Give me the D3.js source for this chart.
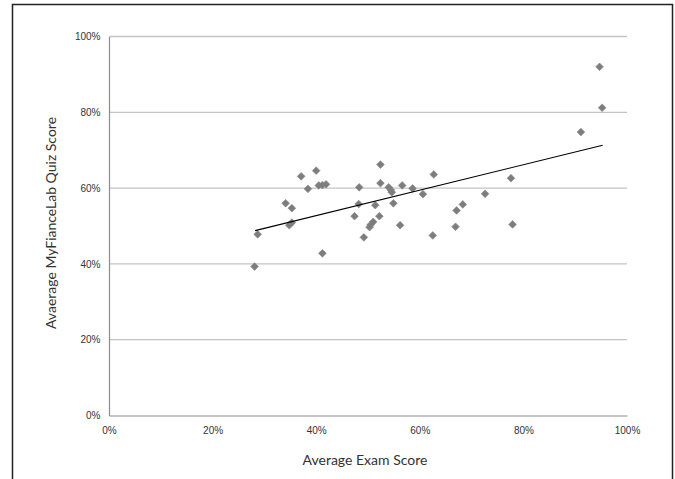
<!DOCTYPE html>
<html>
<head>
<meta charset="utf-8">
<script src="https://cdn.jsdelivr.net/npm/d3@7"></script>
<style>
  html, body { margin: 0; padding: 0; background: #fff; }
  svg { display: block; }
</style>
</head>
<body>
<div id="chart"></div>
<script>
// Data (percent values)
const examScore = [28.7, 28.1, 34.1, 35.3, 34.8, 35.3, 37.1, 38.4, 40.0, 40.5, 41.2, 41.9, 41.2,
  48.3, 48.2, 47.4, 49.2, 50.3, 50.5, 51.0, 52.4, 52.4, 51.4, 52.2, 54.0, 54.4, 54.6, 54.9,
  56.6, 56.2, 58.6, 60.6, 62.7, 62.5, 67.1, 68.3, 66.9, 72.6, 77.6, 77.9, 94.7, 95.2, 91.1];
const quizScore = [47.8, 39.3, 56.0, 54.7, 50.2, 50.9, 63.1, 59.8, 64.6, 60.7, 60.8, 61.0, 42.8,
  60.2, 55.8, 52.6, 47.0, 49.7, 50.3, 51.1, 66.2, 61.3, 55.5, 52.6, 60.2, 59.5, 58.9, 56.0,
  60.7, 50.2, 59.9, 58.4, 63.6, 47.5, 54.1, 55.7, 49.8, 58.5, 62.6, 50.4, 92.0, 81.2, 74.8];
const trendX = [28.2, 95.3];
const trendY = [48.8, 71.3];
const xTicks = [0, 20, 40, 60, 80, 100];
const yTicks = [0, 20, 40, 60, 80, 100];
const xTitle = "Average Exam Score";
const yTitle = "Avaerage MyFianceLab Quiz Score";

const W = 675, H = 479;
const svg = d3.select("#chart").append("svg").attr("width", W).attr("height", H);

// outer frame
svg.append("rect").attr("x", 12.5).attr("y", 4.5).attr("width", 660).attr("height", 520)
  .attr("fill", "none").attr("stroke", "#222").attr("stroke-width", 1.5);

const x = d3.scaleLinear().domain([0, 100]).range([109, 627]);
const y = d3.scaleLinear().domain([0, 100]).range([415.5, 36.5]);

// gridlines
svg.append("g").selectAll("line").data(yTicks.filter(d => d > 0)).join("line")
  .attr("x1", x(0)).attr("x2", x(100))
  .attr("y1", d => y(d)).attr("y2", d => y(d))
  .attr("stroke", "#c4c4c4").attr("stroke-width", 1.3);

// axes
const xAxis = d3.axisBottom(x).tickValues(xTicks).tickFormat(d => d + "%").tickSize(0).tickPadding(11);
const yAxis = d3.axisLeft(y).tickValues(yTicks).tickFormat(d => d + "%").tickSize(0).tickPadding(8.5);

const gx = svg.append("g").attr("transform", `translate(0,${y(0)})`).call(xAxis);
const gy = svg.append("g").attr("transform", `translate(${x(0)},0)`).call(yAxis);
[gx, gy].forEach(g => {
  g.select(".domain").attr("stroke", "#8c8c8c").attr("stroke-width", 1.2);
  g.selectAll("text").attr("font-family", "'Liberation Sans', Arial, sans-serif")
    .attr("font-size", 10).attr("fill", "#333");
});

// points
const pts = examScore.map((v, i) => ({ x: v, y: quizScore[i] }));
svg.append("g").selectAll("path").data(pts).join("path")
  .attr("d", d3.symbol().type(d3.symbolSquare).size(30))
  .attr("transform", d => `translate(${x(d.x)},${y(d.y)}) rotate(45)`)
  .attr("fill", "#7d7d7d").attr("stroke", "#8a8a8a").attr("stroke-width", 0.6)
  .attr("stroke-linejoin", "round");

// trend line
svg.append("line")
  .attr("x1", x(trendX[0])).attr("y1", y(trendY[0]))
  .attr("x2", x(trendX[1])).attr("y2", y(trendY[1]))
  .attr("stroke", "#000").attr("stroke-width", 1.2);

// axis titles
svg.append("text").attr("x", 365).attr("y", 465).attr("text-anchor", "middle")
  .attr("font-family", "Lato, 'Open Sans', sans-serif").attr("font-size", 14).attr("fill", "#333")
  .text(xTitle);
svg.append("text").attr("transform", "translate(56,223) rotate(-90)").attr("text-anchor", "middle")
  .attr("font-family", "Lato, 'Open Sans', sans-serif").attr("font-size", 14).attr("fill", "#333")
  .text(yTitle);
</script>
</body>
</html>
